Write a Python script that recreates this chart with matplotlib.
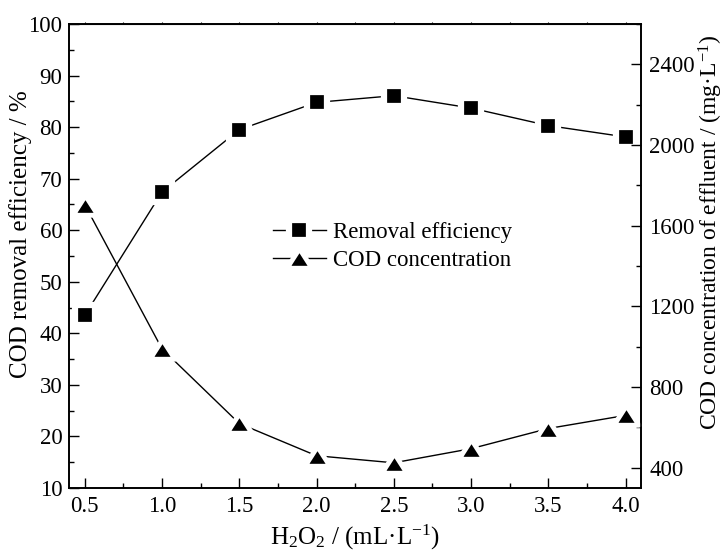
import numpy as np
import matplotlib
matplotlib.use('Agg')
import matplotlib.pyplot as plt
from matplotlib.ticker import MultipleLocator

plt.rcParams['font.family'] = ['Liberation Serif', 'DejaVu Serif']
plt.rcParams['mathtext.fontset'] = 'custom'
plt.rcParams['mathtext.rm'] = 'Liberation Serif'
plt.rcParams['mathtext.it'] = 'Liberation Serif:italic'

# dosage of H2O2 (mL/L)
dose = [0.5, 1.0, 1.5, 2.0, 2.5, 3.0, 3.5, 4.0]
# COD removal efficiency (%)
removal = [43.5, 67.4, 79.5, 84.8, 86.1, 83.7, 80.3, 78.1]
# COD concentration of effluent (mg/L)
cod = [1705, 990, 620, 460, 425, 495, 595, 660]

# flat triangle like the original symbol
tri = [(-1, -0.78), (1, -0.78), (0, 0.78), (-1, -0.78)]

fig = plt.figure(figsize=(7.27, 5.51), dpi=100)
ax = fig.add_axes([0.0953, 0.1143, 0.7864, 0.8421])
ax2 = ax.twinx()

l1, = ax.plot(dose, removal, color='black', lw=1.0, marker='s', ms=14.5,
              mfc='black', mec='white', mew=4.5, label='Removal efficiency')
l2, = ax2.plot(dose, cod, color='black', lw=1.0, marker=tri, ms=18,
               mfc='black', mec='white', mew=3.5, label='COD concentration')

ax.set_xlim(0.4, 4.1)
ax.set_ylim(10, 100)
ax2.set_ylim(300, 2600)

ax.xaxis.set_major_locator(MultipleLocator(0.5))
ax.xaxis.set_minor_locator(MultipleLocator(0.25))
ax.yaxis.set_major_locator(MultipleLocator(10))
ax.yaxis.set_minor_locator(MultipleLocator(5))
ax2.set_yticks([400, 800, 1200, 1600, 2000, 2400])
ax2.yaxis.set_minor_locator(MultipleLocator(200))

ax.xaxis.set_major_formatter(matplotlib.ticker.FormatStrFormatter('%.1f'))

ax.tick_params(axis='x', which='both', direction='in', top=False, labelsize=16.5, pad=6)
ax.tick_params(axis='y', which='both', direction='in', labelsize=16.5, pad=5)
ax2.tick_params(axis='y', which='both', direction='in', labelsize=16.5, pad=6)
ax.tick_params(which='major', length=7, width=1)
ax.tick_params(which='minor', length=3.5, width=1)
ax2.tick_params(which='major', length=7, width=1)
ax2.tick_params(which='minor', length=3.5, width=1)

# tiny ticks along the top edge
sec = ax.secondary_xaxis('top')
sec.xaxis.set_major_locator(MultipleLocator(0.25))
sec.tick_params(direction='out', length=1.5, width=0.8, labelsize=0, labeltop=False)

for a in (ax, ax2):
    for s in a.spines.values():
        s.set_linewidth(1.2)

ax.set_xlabel(r'H$_2$O$_2$ / (mL·L$^{-1}$)', fontsize=18, labelpad=4)
ax.set_ylabel('COD removal efficiency / %', fontsize=18)
ax.yaxis.set_label_coords(-0.066, 0.547)
ax2.set_ylabel(r'COD concentration of effluent / (mg·L$^{-1}$)', fontsize=17)
ax2.yaxis.set_label_coords(1.097, 0.55)

ax2.legend([l1, l2], ['Removal efficiency', 'COD concentration'],
           loc='center left', bbox_to_anchor=(273 / 727, 1 - 246.5 / 551),
           bbox_transform=fig.transFigure, frameon=False, fontsize=16.5,
           handlelength=2.3, handletextpad=0.3, labelspacing=0.3,
           borderpad=0, borderaxespad=0)

fig.savefig('out.png', dpi=100)
